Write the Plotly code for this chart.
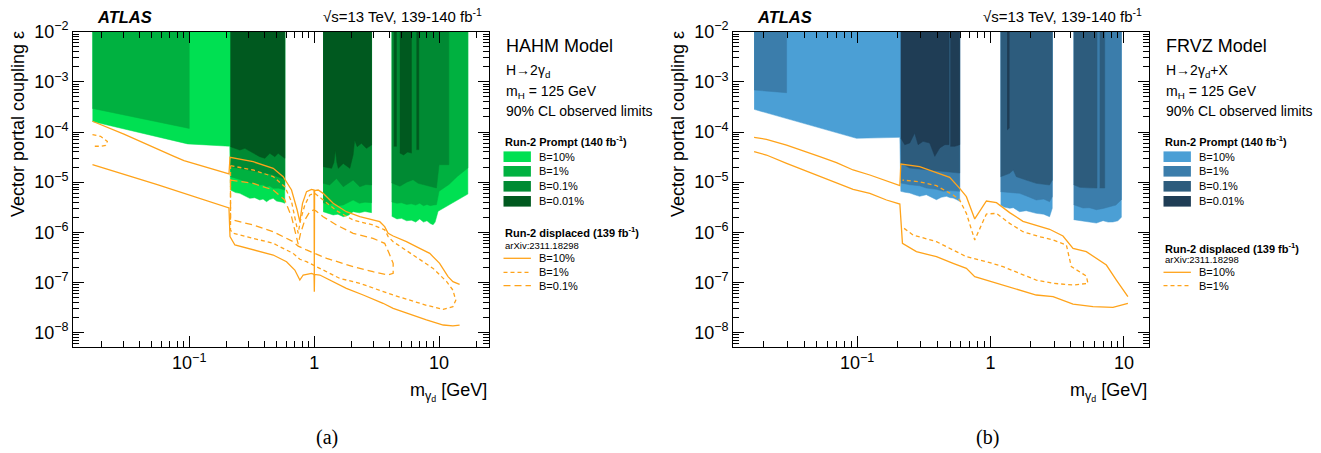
import math
import plotly.graph_objects as go

W, H = 1321, 453
Y_TOP = 1e-2
Y_BOTTOM = 10 ** -8.28

# ---------------- Panel (a): HAHM ----------------
# Run-2 prompt exclusion: lower boundary of each excluded band (segments), epsilon vs m [GeV]
hahm_p10_x = [[0.0168, 0.097, 0.211, 0.214, 0.235, 0.254, 0.28, 0.305, 0.335, 0.367, 0.39, 0.416, 0.44, 0.470, 0.50, 0.531, 0.555, 0.582],
              [1.18, 1.3, 1.42, 1.55, 1.71, 1.88, 2.05, 2.3, 2.55, 2.88],
              [4.18, 4.6, 5.0, 5.5, 6.0, 6.5, 7.0, 7.5, 8.0, 8.5, 8.96, 9.3, 9.82, 12.0, 15.1, 17.0]]
hahm_p10_y = [[1.62e-4, 5.8e-5, 5.2e-5, 6.98e-6, 6.2e-6, 5.99e-6, 5.3e-6, 4.76e-6, 4.9e-6, 4.41e-6, 4.6e-6, 4.09e-6, 4.5e-6, 4.76e-6, 4.2e-6, 4.09e-6, 4.0e-6, 3.79e-6],
              [2.58e-6, 2.4e-6, 2.22e-6, 2.3e-6, 2.05e-6, 2.2e-6, 2.58e-6, 2.45e-6, 2.6e-6, 2.47e-6],
              [2.09e-6, 1.85e-6, 1.9e-6, 1.7e-6, 1.75e-6, 1.6e-6, 1.85e-6, 1.6e-6, 1.7e-6, 1.5e-6, 1.42e-6, 1.6e-6, 2.63e-6, 3.5e-6, 4.84e-6, 5.8e-6]]

hahm_p1_x = [[0.0168, 0.1],
             [0.214, 0.235, 0.254, 0.28, 0.315, 0.34, 0.367, 0.39, 0.416, 0.44, 0.470, 0.52, 0.582],
             [1.18, 1.3, 1.42, 1.55, 1.71, 1.88, 2.05, 2.3, 2.55, 2.88],
             [4.18, 4.6, 5.0, 5.5, 6.0, 6.5, 7.0, 7.5, 8.0, 8.5, 9.0, 9.53, 10.0, 12.0, 14.0, 17.0]]
hahm_p1_y = [[2.96e-4, 1.18e-4],
             [1.29e-5, 1.2e-5, 1.1e-5, 1.05e-5, 9.48e-6, 9.6e-6, 8.78e-6, 8.9e-6, 8.13e-6, 8.4e-6, 7.54e-6, 7.6e-6, 6.98e-6],
             [3.9e-6, 3.6e-6, 3.79e-6, 3.4e-6, 3.51e-6, 4.0e-6, 4.41e-6, 3.79e-6, 4.0e-6, 3.9e-6],
             [4.04e-6, 3.8e-6, 3.9e-6, 3.6e-6, 3.7e-6, 3.5e-6, 3.8e-6, 3.4e-6, 3.6e-6, 3.4e-6, 3.5e-6, 3.56e-6, 6.59e-6, 9.0e-6, 1.3e-5, 1.92e-5]]

hahm_p01_x = [[0.214, 0.235, 0.254, 0.28, 0.305, 0.335, 0.367, 0.40, 0.442, 0.48, 0.52, 0.582],
              [1.18, 1.33, 1.51, 1.71, 2.05, 2.32, 2.6, 2.88],
              [4.18, 4.86, 5.5, 6.19, 6.8, 7.45, 8.5, 9.53, 10.0, 11.97]]
hahm_p01_y = [[2.04e-5, 1.95e-5, 1.89e-5, 1.8e-5, 1.75e-5, 1.7e-5, 1.62e-5, 1.55e-5, 1.45e-5, 1.35e-5, 1.25e-5, 1.15e-5],
              [9.48e-6, 8.78e-6, 1.19e-5, 8.13e-6, 1.1e-5, 8.13e-6, 9.0e-6, 8.78e-6],
              [9.64e-6, 8.3e-6, 1.0e-5, 1.12e-5, 9.5e-6, 8.9e-6, 8.2e-6, 7.67e-6, 2.23e-5, 2.23e-5]]

hahm_p001_x = [[0.214, 0.254, 0.279, 0.315, 0.367, 0.403, 0.442, 0.484, 0.515, 0.582],
               [1.18, 1.38, 1.44, 1.48, 1.52, 1.56, 1.71, 1.93, 2.05, 2.11, 2.21, 2.39, 2.62, 2.88],
               [4.34, 4.56],
               [4.85, 5.2, 5.6, 6.01],
               [6.59, 6.88]]
hahm_p001_y = [[5.1e-5, 4.38e-5, 4.72e-5, 4.05e-5, 3.22e-5, 2.99e-5, 3.76e-5, 3.22e-5, 3.76e-5, 2.99e-5],
               [2.04e-5, 1.89e-5, 2.5e-5, 4.38e-5, 2.5e-5, 1.89e-5, 2.37e-5, 1.89e-5, 3.5e-5, 6.93e-5, 5.1e-5, 5.94e-5, 4.72e-5, 5.5e-5],
               [5.2e-5, 5.2e-5],
               [3.8e-5, 3.5e-5, 4.0e-5, 3.8e-5],
               [4.46e-5, 4.46e-5]]

# Run-2 displaced (arXiv:2311.18298) contours
hahm_d10_up_x = [0.0168, 0.030, 0.0755, 0.0907, 0.208, 0.212, 0.325, 0.470, 0.565, 0.659, 0.731, 0.768, 0.807, 0.869, 0.953, 0.998, 1.003, 1.008,
                 1.077, 1.18, 1.42, 1.81, 2.32, 3.35, 3.67, 3.91, 4.29, 5.48, 7.0, 8.42, 10.1, 11.8, 12.9, 14.6]
hahm_d10_up_y = [1.64e-4, 9.1e-5, 3.28e-5, 2.69e-5, 1.46e-5, 3.13e-5, 2.56e-5, 1.89e-5, 1.29e-5, 6.98e-6, 2.79e-6, 1.63e-6, 3.79e-6, 6.47e-6, 7.2e-6, 6.98e-6, 1.4e-7, 6.8e-6,
                 6.98e-6, 5.99e-6, 3.79e-6, 2.58e-6, 2.05e-6, 1.63e-6, 1.3e-6, 9.55e-7, 8.45e-7, 6.51e-7, 4.8e-7, 3.81e-7, 2.41e-7, 1.31e-7, 1.04e-7, 9.19e-8]
hahm_d10_lo_x = [0.0168, 0.0555, 0.208, 0.212, 0.232, 0.325, 0.470, 0.601, 0.700, 0.768, 0.817, 0.953, 0.998, 1.003, 1.008, 1.11, 1.33, 1.81, 2.47, 3.56, 4.29, 7.92, 10.8, 12.9, 14.6]
hahm_d10_lo_y = [2.23e-5, 8.9e-6, 3.06e-6, 8.2e-7, 5.6e-7, 4.45e-7, 3.53e-7, 2.6e-7, 1.77e-7, 1.12e-7, 1.41e-7, 1.52e-7, 1.45e-7, 6.56e-8, 1.45e-7, 1.41e-7, 1.12e-7, 7.65e-8, 5.63e-8, 3.85e-8, 3.05e-8, 1.79e-8, 1.42e-8, 1.36e-8, 1.42e-8]

hahm_d1a_x = [0.0168, 0.0195, 0.0221, 0.0214, 0.0195, 0.0168]
hahm_d1a_y = [8.9e-5, 8.2e-5, 6.5e-5, 5.4e-5, 5.2e-5, 5.2e-5]
hahm_d1_x = [0.214, 0.325, 0.470, 0.582, 0.659, 0.713, 0.745, 0.778, 0.842, 0.923, 0.993, 1.03, 1.18, 1.51, 2.05, 2.96, 3.67, 3.91, 4.29, 6.19, 8.96, 11.5, 12.9, 13.6,
             12.9, 10.8, 7.92, 4.29, 2.32, 1.60, 1.18, 0.869, 0.768, 0.679, 0.470, 0.325, 0.225, 0.214, 0.214]
hahm_d1_y = [2.13e-5, 1.75e-5, 1.29e-5, 8.13e-6, 4.09e-6, 1.76e-6, 9.55e-7, 1.76e-6, 3.51e-6, 5.55e-6, 5.99e-6, 5.81e-6, 4.41e-6, 2.7e-6, 1.76e-6, 1.4e-6, 1.12e-6, 8.2e-7, 6.51e-7, 3.53e-7, 1.91e-7, 1.04e-7, 7.08e-8, 4.41e-8,
             3.3e-8, 2.92e-8, 3.51e-8, 5.63e-8, 9.62e-8, 1.21e-7, 1.77e-7, 2.6e-7, 2.9e-7, 3.81e-7, 6.04e-7, 7.59e-7, 9.55e-7, 1.1e-6, 2.13e-5]
hahm_d01_x = [0.214, 0.325, 0.470, 0.582, 0.659, 0.713, 0.745, 0.778, 0.842, 0.923, 0.993, 1.03, 1.18, 1.51, 2.05, 2.96, 3.67, 3.98, 4.29, 4.29,
              3.91, 2.96, 2.05, 1.26, 1.03, 0.869, 0.745, 0.679, 0.470, 0.325, 0.225, 0.214, 0.214]
hahm_d01_y = [1.1e-5, 9.48e-6, 6.98e-6, 4.41e-6, 2.05e-6, 9.5e-7, 5.8e-7, 9.5e-7, 1.76e-6, 2.58e-6, 2.79e-6, 2.7e-6, 2.05e-6, 1.4e-6, 9.55e-7, 7.59e-7, 6.04e-7, 3.81e-7, 2.41e-7, 1.52e-7,
              1.41e-7, 1.64e-7, 2.07e-7, 3.03e-7, 3.81e-7, 4.45e-7, 5.3e-7, 6.51e-7, 1.03e-6, 1.4e-6, 1.76e-6, 1.8e-6, 1.1e-5]

# ---------------- Panel (b): FRVZ ----------------
frvz_p10_x = [[0.0169, 0.0989, 0.209, 0.2125, 0.228, 0.248, 0.27, 0.294, 0.330, 0.36, 0.393, 0.428, 0.467, 0.50, 0.524, 0.555, 0.587],
              [1.19, 1.26, 1.39, 1.48, 1.65, 1.85, 2.2, 2.5, 2.77, 2.9],
              [4.2, 4.66, 5.22, 5.86, 6.21, 6.97, 7.6, 8.27, 9.0, 9.56]]
frvz_p10_y = [[2.83e-4, 7.48e-5, 7.83e-5, 6.56e-6, 6.3e-6, 6.08e-6, 5.6e-6, 5.22e-6, 5.63e-6, 5.0e-6, 4.48e-6, 5.0e-6, 5.22e-6, 4.9e-6, 4.83e-6, 4.5e-6, 4.15e-6],
              [3.51e-6, 3.2e-6, 3.01e-6, 3.1e-6, 2.58e-6, 2.7e-6, 2.39e-6, 2.3e-6, 2.05e-6, 3.01e-6],
              [1.79e-6, 1.72e-6, 1.66e-6, 1.6e-6, 1.53e-6, 1.71e-6, 1.6e-6, 1.61e-6, 1.7e-6, 1.99e-6]]
frvz_p1_x = [[0.0169, 0.0296],
             [0.2125, 0.248, 0.294, 0.33, 0.393, 0.441, 0.50, 0.587],
             [1.19, 1.39, 1.65, 1.9, 2.2, 2.5, 2.77, 2.9],
             [4.2, 4.93, 5.5, 6.21, 7.0, 7.82, 8.7, 9.56]]
frvz_p1_y = [[6.87e-4, 6.08e-4],
             [9.62e-6, 8.91e-6, 8.5e-6, 7.65e-6, 7.2e-6, 6.56e-6, 6.8e-6, 6.56e-6],
             [6.47e-6, 6.2e-6, 5.99e-6, 5.2e-6, 4.41e-6, 4.6e-6, 4.09e-6, 5.14e-6],
             [3.56e-6, 3.05e-6, 3.1e-6, 2.83e-6, 3.0e-6, 3.3e-6, 3.5e-6, 4.48e-6]]
frvz_p01_x = [[0.2125, 0.248, 0.33, 0.441, 0.587],
              [1.19, 1.39, 1.48, 1.56, 1.85, 2.2, 2.77, 2.9],
              [4.2, 4.66, 5.5, 6.28],
              [6.58, 7.17]]
frvz_p01_y = [[2.41e-5, 1.91e-5, 1.77e-5, 1.64e-5, 1.52e-5],
              [1.29e-5, 1.5e-5, 1.75e-5, 1.29e-5, 1.1e-5, 9.48e-6, 8.78e-6, 1.1e-5],
              [8.91e-6, 7.88e-6, 7.7e-6, 7.65e-6],
              [7.65e-6, 7.65e-6]]
frvz_p001_x = [[0.2125, 0.2275, 0.248, 0.270, 0.2865, 0.312, 0.350, 0.382, 0.416, 0.454, 0.488],
               [0.500, 0.509, 0.540, 0.587],
               [1.33, 1.38]]
frvz_p001_y = [[7.59e-5, 5.6e-5, 6.04e-5, 9.55e-5, 5.6e-5, 6.51e-5, 6.04e-5, 3.27e-5, 4.8e-5, 5.6e-5, 5.6e-5],
               [5.18e-5, 5.18e-5, 5.18e-5, 5.6e-5],
               [1.1e-4, 1.2e-4]]

frvz_d10_up_x = [0.0169, 0.0209, 0.0296, 0.0395, 0.0525, 0.070, 0.0933, 0.1245, 0.166, 0.209, 0.2125, 0.294, 0.393, 0.494, 0.587, 0.659, 0.761, 0.854, 0.931, 1.107,
                 1.39, 1.75, 2.20, 2.77, 3.49, 4.15, 5.22, 7.38, 8.77, 10.7]
frvz_d10_up_y = [7.83e-5, 7.14e-5, 5.5e-5, 4.25e-5, 3.22e-5, 2.45e-5, 1.75e-5, 1.39e-5, 1.07e-5, 8.51e-6, 2.30e-5, 2.04e-5, 1.55e-5, 1.25e-5, 7.54e-6, 5.14e-6, 1.85e-6, 3.01e-6, 4.21e-6, 3.9e-6,
                 2.47e-6, 1.66e-6, 1.40e-6, 1.15e-6, 8.45e-7, 4.8e-7, 4.12e-7, 2.23e-7, 1.12e-7, 5.22e-8]
frvz_d10_lo_x = [0.0169, 0.0209, 0.0296, 0.0395, 0.0525, 0.070, 0.0933, 0.1245, 0.166, 0.209, 0.2186, 0.278, 0.393, 0.524, 0.659, 0.761, 0.931, 1.24, 1.65, 2.20, 2.94, 4.15, 5.86, 8.27, 10.7]
frvz_d10_lo_y = [4.05e-5, 3.48e-5, 2.37e-5, 1.75e-5, 1.29e-5, 9.77e-6, 7.2e-6, 5.99e-6, 4.41e-6, 3.67e-6, 6.04e-7, 4.12e-7, 3.27e-7, 2.41e-7, 1.91e-7, 1.31e-7, 1.12e-7, 8.91e-8, 7.08e-8, 5.63e-8, 5.22e-8, 3.72e-8, 3.3e-8, 3.2e-8, 3.85e-8]
frvz_d1_x = [0.225, 0.2626, 0.393, 0.524, 0.659, 0.931, 1.24, 1.65, 2.20, 2.94, 4.15, 5.37,
             5.22, 4.03, 3.70, 2.94, 2.33, 1.75, 1.39, 1.107, 0.931, 0.854, 0.761, 0.659, 0.587, 0.524, 0.393, 0.294, 0.2186]
frvz_d1_y = [1.2e-6, 8.85e-7, 6.51e-7, 4.45e-7, 3.27e-7, 2.6e-7, 2.07e-7, 1.52e-7, 1.12e-7, 9.62e-8, 8.91e-8, 9.62e-8,
             1.35e-7, 2.07e-7, 5.6e-7, 7.03e-7, 8.2e-7, 1.03e-6, 1.51e-6, 2.39e-6, 2.32e-6, 1.40e-6, 7.03e-7, 2.39e-6, 4.41e-6, 5.55e-6, 8.51e-6, 1.02e-5, 1.1e-5]

HAHM_COLORS = ["#00e052", "#00b140", "#008a33", "#00591f"]
FRVZ_COLORS = ["#4b9fd5", "#3b7dab", "#2d5c7d", "#1f3d55"]
ORANGE = "#ffa31a"
DASH_1 = "4px,3px"
DASH_01 = "7px,4px"
FONT = "Liberation Sans, Arial, Helvetica, sans-serif"


def px(x):
    return x / W


def py(y):
    return 1 - y / H


fig = go.Figure()


def add_band(xs, ys, color, xa, ya):
    fig.add_trace(go.Scatter(
        x=list(xs) + list(reversed(xs)), y=list(ys) + [Y_TOP] * len(xs),
        fill="toself", fillcolor=color, mode="lines", line=dict(width=0.5, color=color),
        xaxis=xa, yaxis=ya, hoverinfo="skip", showlegend=False))


def add_line(xs, ys, dash, xa, ya):
    fig.add_trace(go.Scatter(x=xs, y=ys, mode="lines", line=dict(color=ORANGE, width=1.3, dash=dash),
                             xaxis=xa, yaxis=ya, hoverinfo="skip", showlegend=False))


for sx, sy, c in [(hahm_p10_x, hahm_p10_y, HAHM_COLORS[0]), (hahm_p1_x, hahm_p1_y, HAHM_COLORS[1]),
                  (hahm_p01_x, hahm_p01_y, HAHM_COLORS[2]), (hahm_p001_x, hahm_p001_y, HAHM_COLORS[3])]:
    for xs, ys in zip(sx, sy):
        add_band(xs, ys, c, "x", "y")
add_line(hahm_d10_up_x, hahm_d10_up_y, "solid", "x", "y")
add_line(hahm_d10_lo_x, hahm_d10_lo_y, "solid", "x", "y")
add_line(hahm_d1a_x, hahm_d1a_y, DASH_1, "x", "y")
add_line(hahm_d1_x, hahm_d1_y, DASH_1, "x", "y")
add_line(hahm_d01_x, hahm_d01_y, DASH_01, "x", "y")

for sx, sy, c in [(frvz_p10_x, frvz_p10_y, FRVZ_COLORS[0]), (frvz_p1_x, frvz_p1_y, FRVZ_COLORS[1]),
                  (frvz_p01_x, frvz_p01_y, FRVZ_COLORS[2]), (frvz_p001_x, frvz_p001_y, FRVZ_COLORS[3])]:
    for xs, ys in zip(sx, sy):
        add_band(xs, ys, c, "x2", "y2")
add_line(frvz_d10_up_x, frvz_d10_up_y, "solid", "x2", "y2")
add_line(frvz_d10_lo_x, frvz_d10_lo_y, "solid", "x2", "y2")
add_line(frvz_d1_x, frvz_d1_y, DASH_1, "x2", "y2")

x_ticks = [0.1, 1, 10]
x_ticktext = ["10<sup>\u22121</sup>", "1", "10"]
y_ticks = [1e-8, 1e-7, 1e-6, 1e-5, 1e-4, 1e-3, 1e-2]
y_ticktext = ["10<sup>\u2212%d</sup>" % k for k in [8, 7, 6, 5, 4, 3, 2]]

axis_common = dict(type="log", showgrid=False, zeroline=False, showline=True, linecolor="black", linewidth=1.3,
                   mirror="allticks", ticks="inside", ticklen=11, tickwidth=1, tickcolor="black", automargin=False,
                   tickfont=dict(family=FONT, size=18, color="black"),
                   minor=dict(ticks="inside", ticklen=6, tickwidth=1, tickcolor="black", dtick="D1", showgrid=False))

fig.update_layout(
    width=W, height=H, margin=dict(l=0, r=0, t=0, b=0, autoexpand=False), paper_bgcolor="white", plot_bgcolor="white",
    showlegend=False,
    xaxis=dict(domain=[px(73.3), px(489)], range=[math.log10(0.0118), math.log10(25.1)], anchor="y",
               tickmode="array", tickvals=x_ticks, ticktext=x_ticktext, **axis_common),
    yaxis=dict(domain=[py(346.7), py(31.7)], range=[math.log10(Y_BOTTOM), math.log10(Y_TOP)], anchor="x",
               tickmode="array", tickvals=y_ticks, ticktext=y_ticktext, **axis_common),
    xaxis2=dict(domain=[px(733.3), px(1149)], range=[math.log10(0.0118), math.log10(15.4)], anchor="y2",
                tickmode="array", tickvals=x_ticks, ticktext=x_ticktext, **axis_common),
    yaxis2=dict(domain=[py(346.7), py(31.7)], range=[math.log10(Y_BOTTOM), math.log10(Y_TOP)], anchor="x2",
                tickmode="array", tickvals=y_ticks, ticktext=y_ticktext, **axis_common),
)

ann = []
shapes = []


def text(x, y, s, size, xanchor="left", yanchor="middle", family=FONT, angle=0):
    ann.append(dict(x=px(x), y=py(y), xref="paper", yref="paper", text=s, showarrow=False,
                    xanchor=xanchor, yanchor=yanchor, textangle=angle,
                    font=dict(family=family, size=size, color="black")))


panels = [
    dict(off=0, model="HAHM Model", decay="H\u21922\u03b3<sub>d</sub>", colors=HAHM_COLORS,
         disp_y=231.7, arx_y=245.7, lines=[("solid", "B=10%", 258.3), (DASH_1, "B=1%", 272.3), (DASH_01, "B=0.1%", 285.7)],
         cap="(a)"),
    dict(off=660, model="FRVZ Model", decay="H\u21922\u03b3<sub>d</sub>+X", colors=FRVZ_COLORS,
         disp_y=247.7, arx_y=259.3, lines=[("solid", "B=10%", 272.3), (DASH_1, "B=1%", 285.7)],
         cap="(b)"),
]
prompt_labels = ["B=10%", "B=1%", "B=0.1%", "B=0.01%"]
swatch_y = [156.7, 171.3, 186.3, 201.3]

for p in panels:
    o = p["off"]
    text(95 + o, 17, "<b><i>ATLAS</i></b>", 16.5)
    text(484 + o, 16, "\u221as=13 TeV, 139-140 fb<sup>-1</sup>", 15, xanchor="right")
    text(18 + o, 29, "Vector portal coupling \u03b5", 18, xanchor="center", yanchor="top", angle=-90)
    text(489 + o, 392, "m<sub>\u03b3<sub>d</sub></sub> [GeV]", 18, xanchor="right")
    text(327 + o, 437, p["cap"], 20, xanchor="center", family="Liberation Serif, Times New Roman, serif")
    lx = 503.5 + o
    text(lx, 46, p["model"], 18)
    text(lx, 71, p["decay"], 14)
    text(lx, 92, "m<sub>H</sub> = 125 GeV", 14)
    text(lx, 111, "90% CL observed limits", 14)
    text(lx - 0.5, 141, "<b>Run-2 Prompt (140 fb<sup>-1</sup>)</b>", 11)
    for c, lab, yc in zip(p["colors"], prompt_labels, swatch_y):
        shapes.append(dict(type="rect", xref="paper", yref="paper", x0=px(lx), x1=px(lx + 27.4),
                           y0=py(yc + 5.3), y1=py(yc - 5.3), fillcolor=c, line=dict(width=0)))
        text(lx + 33, yc, lab, 11)
    text(lx - 0.5, p["disp_y"], "<b>Run-2 displaced (139 fb<sup>-1</sup>)</b>", 11)
    text(lx - 0.5, p["arx_y"], "arXiv:2311.18298", 9.5)
    for dash, lab, yc in p["lines"]:
        shapes.append(dict(type="line", xref="paper", yref="paper", x0=px(lx), x1=px(lx + 27.4),
                           y0=py(yc), y1=py(yc), line=dict(color=ORANGE, width=1.3, dash=dash)))
        text(lx + 33, yc, lab, 11)

fig.update_layout(annotations=ann, shapes=shapes)
fig.write_html("out.html", config={"displayModeBar": False},
               post_script="document.body.style.margin='0';document.body.style.overflow='hidden';")
